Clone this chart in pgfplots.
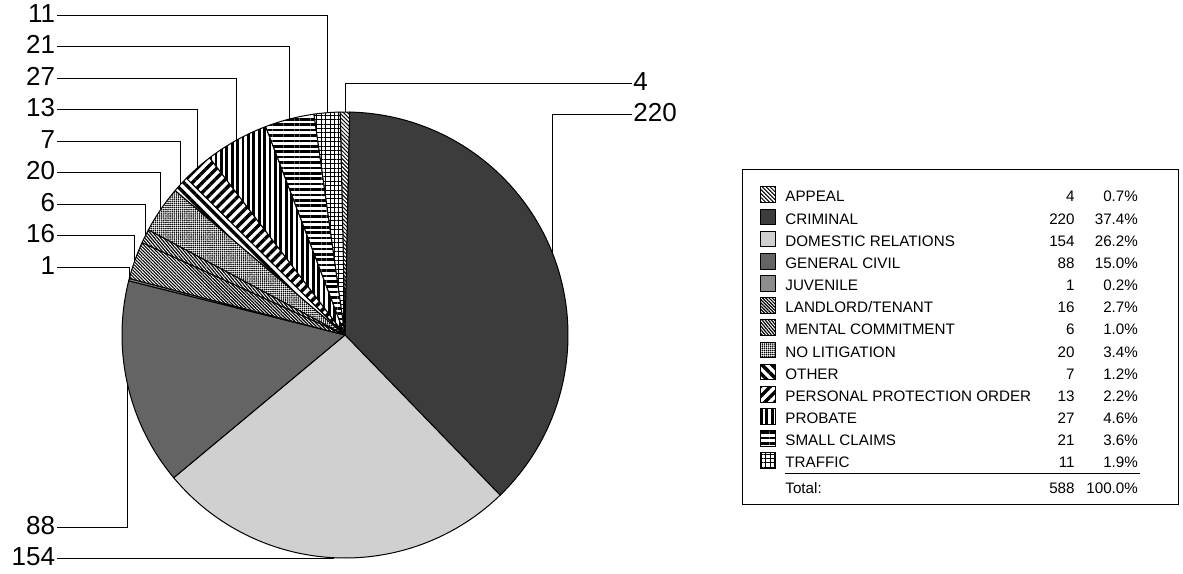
\documentclass[border=0pt]{standalone}
\usepackage{pgfplots}
\pgfplotsset{compat=1.18}
\usepackage{pgfplotstable}
\usetikzlibrary{patterns.meta}
\usepackage{fontspec}
\setmainfont{Liberation Sans}

\definecolor{crim}{RGB}{60,60,60}
\definecolor{dom}{RGB}{208,208,208}
\definecolor{gciv}{RGB}{100,100,100}
\definecolor{juv}{RGB}{140,140,140}

% case counts by type, clockwise from the top; ly = height of the value label, side 1 = label on the right
\pgfplotstableread[col sep=comma]{
name,count,ly,side
APPEAL,4,83,1
CRIMINAL,220,114,1
DOMESTIC RELATIONS,154,558,0
GENERAL CIVIL,88,527,0
JUVENILE,1,267,0
LANDLORD/TENANT,16,235.5,0
MENTAL COMMITMENT,6,204,0
NO LITIGATION,20,172.5,0
OTHER,7,141,0
PERSONAL PROTECTION ORDER,13,109.5,0
PROBATE,27,78,0
SMALL CLAIMS,21,46.5,0
TRAFFIC,11,15,0
}\casetable

\tikzset{
  hatch/.style={preaction={fill=white}, pattern={#1}},
  slice0/.style={hatch={Lines[angle=-45,distance=1.4pt,line width=0.5pt]}},
  slice1/.style={fill=crim},
  slice2/.style={fill=dom},
  slice3/.style={fill=gciv},
  slice4/.style={fill=juv},
  slice5/.style={hatch={Lines[angle=-45,distance=1.15pt,line width=0.6pt]}},
  slice6/.style={hatch={Lines[angle=-50,distance=1.2pt,line width=0.6pt]}},
  slice7/.style={hatch={Dots[distance=1.05pt,radius=0.45pt]}},
  slice8/.style={hatch={Lines[angle=-45,distance=3.5pt,line width=1.7pt]}},
  slice9/.style={hatch={Lines[angle=45,distance=3.5pt,line width=1.7pt]}},
  slice10/.style={hatch={Lines[angle=90,distance=2.7pt,line width=1.4pt]}},
  slice11/.style={hatch={Lines[angle=0,distance=2.7pt,line width=1.3pt]}},
  slice12/.style={hatch={Hatch[angle=0,distance=2.2pt,line width=0.5pt]}},
  capnode/.style={inner sep=0pt, text height=0.716em, text depth=0pt},
  legtext/.style={capnode, font=\fontsize{7.6}{9}\selectfont},
}

\begin{document}
\begin{tikzpicture}
\begin{axis}[x=0.5pt, y=0.5pt, xmin=0, xmax=1183, ymin=0, ymax=573,
  y dir=reverse, hide axis, clip=false, scale only axis]
\pgfplotsextra{
  \path (axis cs:0,0) rectangle (axis cs:1183,573);
  \def\cx{345}\def\cy{335}\def\rad{223}
  \def\total{588}
  % first slice is centred on twelve o'clock
  \pgfplotstablegetelem{0}{count}\of\casetable
  \pgfmathsetmacro\startang{-\pgfplotsretval/\total*180}
  \global\let\acc\startang
  \foreach \i in {0,...,12} {
    \pgfplotstablegetelem{\i}{count}\of\casetable \let\val\pgfplotsretval
    \pgfplotstablegetelem{\i}{ly}\of\casetable \let\ly\pgfplotsretval
    \pgfplotstablegetelem{\i}{side}\of\casetable \let\side\pgfplotsretval
    \pgfmathsetmacro\angA{\acc}
    \pgfmathsetmacro\angB{\acc+\val/\total*360}
    \pgfmathsetmacro\angM{(\angA+\angB)/2}
    \xdef\acc{\angB}
    \pgfmathsetmacro\sx{\cx+\rad*sin(\angA)}
    \pgfmathsetmacro\sy{\cy-\rad*cos(\angA)}
    \pgfmathsetmacro\stA{90-\angA}
    \pgfmathsetmacro\stB{90-\angB}
    \filldraw[slice\i, draw=black, line width=0.5pt, line join=round]
      (axis cs:\cx,\cy) -- (axis cs:\sx,\sy)
      arc[start angle=\stA, end angle=\stB, radius=111.5pt] -- cycle;
    \pgfmathsetmacro\mx{\cx+\rad*sin(\angM)}
    \pgfmathsetmacro\my{\cy-\rad*cos(\angM)}
    \ifnum\side=1
      \draw[line width=0.5pt] (axis cs:\mx,\my) -- (axis cs:\mx,\ly) -- (axis cs:632,\ly);
      \node[capnode, anchor=west, font=\fontsize{13}{15}\selectfont] at (axis cs:633,\ly) {\val};
    \else
      \draw[line width=0.5pt] (axis cs:\mx,\my) -- (axis cs:\mx,\ly) -- (axis cs:57,\ly);
      \node[capnode, anchor=east, font=\fontsize{13}{15}\selectfont] at (axis cs:55.5,\ly) {\val};
    \fi
  }
  % legend with counts and shares
  \draw[line width=0.5pt] (axis cs:742.7,169.3) rectangle (axis cs:1178.3,504.3);
  \foreach \i in {0,...,12} {
    \pgfplotstablegetelem{\i}{count}\of\casetable \let\val\pgfplotsretval
    \pgfplotstablegetelem{\i}{name}\of\casetable \let\nm\pgfplotsretval
    \pgfmathsetmacro\yy{194.7+22.17*\i}
    \pgfmathsetmacro\ya{\yy-7.8}
    \pgfmathsetmacro\yb{\yy+7.8}
    \pgfmathsetmacro\pc{\val/\total*100}
    \filldraw[slice\i, draw=black, line width=0.5pt]
      (axis cs:760,\ya) rectangle (axis cs:775.7,\yb);
    \node[legtext, anchor=west] at (axis cs:785,\yy) {\nm};
    \node[legtext, anchor=east] at (axis cs:1075,\yy) {\val};
    \node[legtext, anchor=east] at (axis cs:1138.3,\yy)
      {\pgfmathprintnumber[fixed,fixed zerofill,precision=1,assume math mode=true]{\pc}\%};
  }
  \draw[line width=0.6pt] (axis cs:785,473.3) -- (axis cs:1140,473.3);
  \node[legtext, anchor=west] at (axis cs:785,486.7) {Total:};
  \node[legtext, anchor=east] at (axis cs:1075,486.7) {588};
  \node[legtext, anchor=east] at (axis cs:1138.3,486.7) {100.0\%};
}
\end{axis}
\end{tikzpicture}
\end{document}
